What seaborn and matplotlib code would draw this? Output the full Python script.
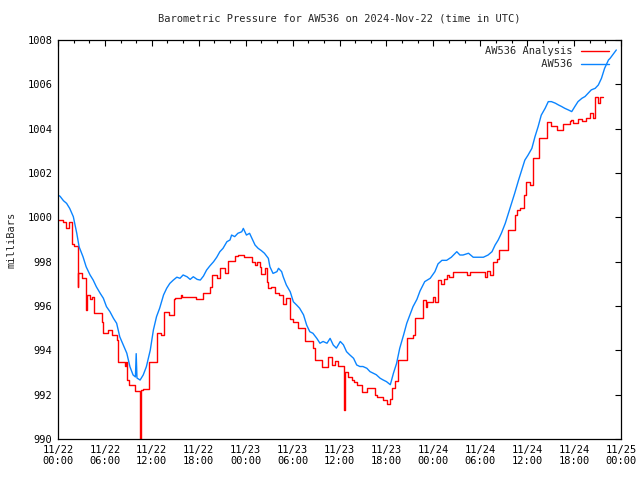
import pandas as pd
import matplotlib
matplotlib.use('Agg')
from matplotlib import pyplot as plt
import matplotlib.dates as mdates
import seaborn as sb

sb.set_style('white')
plt.rcParams['font.family'] = ['DejaVu Sans Mono']

# observed station pressure: hours after 2024-11-22 00:00 UTC, mb
obs_hours = [0.0, 0.26, 0.7, 1.1, 1.5, 1.96, 2.4, 2.7, 3.2, 3.6, 4.1, 4.5, 4.9, 5.4,
             5.8, 6.2, 6.65, 7.1, 7.5, 7.9, 8.35, 8.8, 9.2, 9.6, 9.9, 10.0, 10.1,
             10.5, 10.9, 11.3, 11.8, 12.2, 12.6, 13.0, 13.5, 13.9, 14.3, 14.75,
             15.2, 15.6, 16.0, 16.5, 16.9, 17.3, 17.8, 18.2, 18.6, 19.0, 19.4,
             19.9, 20.3, 20.7, 21.1, 21.6, 22.0, 22.2, 22.6, 23.0, 23.5, 23.7,
             24.1, 24.5, 24.8, 25.2, 25.6, 26.0, 26.4, 26.9, 27.1, 27.5, 28.0,
             28.2, 28.6, 28.8, 29.2, 29.7, 30.1, 30.5, 30.9, 31.4, 31.8, 32.2,
             32.6, 33.1, 33.5, 33.9, 34.4, 34.8, 35.2, 35.6, 36.1, 36.5, 36.9,
             37.3, 37.8, 38.2, 38.6, 39.0, 39.5, 39.9, 40.3, 40.7, 41.2, 41.6,
             42.0, 42.5, 42.9, 43.3, 43.7, 44.2, 44.6, 45.0, 45.4, 45.9, 46.3,
             46.9, 47.6, 48.2, 48.6, 49.1, 49.7, 50.3, 51.0, 51.4, 51.8, 52.5,
             53.1, 53.7, 54.4, 55.0, 55.5, 55.9, 56.3, 56.7, 57.2, 57.6, 58.0,
             58.4, 58.9, 59.3, 59.7, 60.1, 60.6, 61.0, 61.4, 61.8, 62.3, 62.7,
             63.1, 63.6, 64.0, 64.4, 64.8, 65.3, 65.7, 66.1, 66.5, 67.0, 67.4,
             67.8, 68.2, 68.7, 69.1, 69.5, 69.9, 70.4, 70.6, 71.4]
obs_mb = [1001.0, 1000.95, 1000.75, 1000.63, 1000.4, 1000.03, 999.28, 998.67, 998.22,
          997.77, 997.4, 997.17, 996.87, 996.57, 996.35, 995.97, 995.74, 995.44,
          995.22, 994.61, 994.24, 993.87, 993.26, 992.89, 992.8, 993.85, 992.75,
          992.66, 992.89, 993.26, 994.01, 994.92, 995.52, 995.9, 996.5, 996.8,
          997.02, 997.17, 997.3, 997.25, 997.4, 997.32, 997.2, 997.32, 997.2,
          997.17, 997.35, 997.62, 997.8, 998.0, 998.2, 998.45, 998.6, 998.9,
          998.98, 999.2, 999.13, 999.28, 999.35, 999.5, 999.2, 999.28, 999.05,
          998.75, 998.6, 998.5, 998.38, 998.15, 997.77, 997.47, 997.55, 997.7,
          997.55, 997.32, 996.95, 996.64, 996.19, 996.05, 995.9, 995.6, 995.14,
          994.84, 994.77, 994.54, 994.32, 994.4, 994.32, 994.54, 994.24, 994.1,
          994.4, 994.25, 993.94, 993.8, 993.64, 993.34, 993.27, 993.27, 993.19,
          993.04, 992.97, 992.9, 992.74, 992.66, 992.59, 992.45, 992.97, 993.41,
          994.09, 994.7, 995.22, 995.6, 995.97, 996.3, 996.68, 997.1, 997.25,
          997.55, 997.9, 998.06, 998.06, 998.2, 998.45, 998.3, 998.3, 998.38,
          998.2, 998.2, 998.2, 998.3, 998.45, 998.75, 998.98, 999.28, 999.73,
          1000.18, 1000.63, 1001.08, 1001.68, 1002.13, 1002.58, 1002.8, 1003.11,
          1003.64, 1004.09, 1004.61, 1004.92, 1005.22, 1005.22, 1005.15, 1005.07,
          1005.0, 1004.92, 1004.84, 1004.77, 1005.0, 1005.22, 1005.37, 1005.45,
          1005.6, 1005.75, 1005.82, 1005.97, 1006.27, 1006.72, 1007.1, 1007.17,
          1007.55]

# analysis pressure: step start hours and values, mb
ana_hours = [0.0, 0.6, 1.0, 1.45, 1.75, 2.1, 2.52, 2.6, 3.03, 3.58, 3.7, 4.09, 4.4,
             4.65, 5.58, 5.8, 6.44, 6.86, 7.59, 7.72, 8.57, 8.7, 8.78, 9.1, 9.85,
             10.45, 10.5, 10.6, 10.83, 11.64, 12.7, 13.2, 13.56, 14.24, 14.83,
             15.0, 15.7, 15.81, 17.7, 18.6, 19.44, 19.65, 20.3, 20.7, 21.35,
             21.78, 22.6, 23.0, 23.8, 24.8, 25.2, 25.4, 25.8, 26.0, 26.5, 26.7,
             26.9, 27.3, 27.7, 28.2, 28.8, 29.2, 29.7, 30.1, 30.7, 31.59, 32.65,
             32.86, 33.72, 34.57, 35.0, 35.42, 35.85, 36.57, 36.7, 37.13, 37.55,
             37.85, 38.19, 38.83, 39.56, 40.54, 40.75, 41.6, 42.03, 42.45, 42.67,
             43.1, 43.52, 44.59, 45.44, 45.65, 46.72, 47.0, 47.23, 48.0, 48.2,
             48.6, 49.0, 49.4, 49.7, 50.0, 50.55, 52.3, 52.7, 54.6, 54.8, 55.24,
             55.58, 56.2, 56.44, 57.6, 58.45, 58.7, 59.1, 59.6, 59.85, 60.36,
             60.7, 61.55, 62.5, 63.1, 63.77, 64.62, 65.47, 65.6, 65.8, 66.54,
             67.0, 67.48, 68.03, 68.46, 68.67, 69.1, 69.3, 69.65]
ana_mb = [999.9, 999.8, 999.5, 999.8, 998.8, 998.7, 996.87, 997.47, 997.25, 995.8,
          996.5, 996.3, 996.4, 995.67, 995.29, 994.77, 994.92, 994.7, 994.47,
          993.49, 993.3, 993.49, 992.66, 992.43, 992.15, 991.14, 990.0, 992.2,
          992.27, 993.49, 994.8, 994.7, 995.74, 995.6, 996.3, 996.37, 996.5,
          996.4, 996.3, 996.6, 996.87, 997.4, 997.25, 997.7, 997.47, 998.03,
          998.27, 998.3, 998.2, 997.97, 997.85, 998.0, 997.74, 997.43, 997.7,
          997.1, 996.8, 996.87, 996.57, 996.5, 996.08, 996.35, 995.4, 995.3,
          995.0, 994.4, 994.1, 993.56, 993.27, 993.71, 993.34, 993.5, 993.3,
          991.3, 993.04, 992.78, 992.66, 992.55, 992.44, 992.13, 992.3, 992.0,
          991.88, 991.78, 991.6, 991.8, 992.3, 992.6, 993.56, 994.54, 994.7,
          995.44, 996.27, 995.97, 996.2, 996.4, 996.17, 997.17, 997.0, 997.2,
          997.4, 997.3, 997.55, 997.4, 997.55, 997.33, 997.6, 997.4, 998.0,
          998.1, 998.52, 999.43, 1000.1, 1000.33, 1000.4, 1001.0, 1001.6,
          1001.45, 1002.66, 1003.56, 1004.31, 1004.1, 1003.93, 1004.2, 1004.33,
          1004.4, 1004.24, 1004.43, 1004.35, 1004.48, 1004.7, 1004.48, 1005.44,
          1005.18, 1005.44, 1005.44]

t0 = pd.Timestamp('2024-11-22 00:00')
dfO = pd.DataFrame({'time': t0 + pd.to_timedelta(obs_hours, unit='h'), 'mb': obs_mb})
dfA = pd.DataFrame({'time': t0 + pd.to_timedelta(ana_hours, unit='h'), 'mb': ana_mb})

# plotting
fig = plt.figure(figsize=(6.4, 4.8), dpi=100)
ax = fig.add_axes([58 / 640, 41 / 480, 563 / 640, 399 / 480])

sb.lineplot(data=dfA, x='time', y='mb', ax=ax, color='#ff0000', linewidth=1.0,
            drawstyle='steps-post', label='AW536 Analysis')
sb.lineplot(data=dfO, x='time', y='mb', ax=ax, color='#0a84ff', linewidth=1.0,
            label='AW536')

ax.set_xlim(t0, t0 + pd.Timedelta(hours=72))
ax.set_ylim(990, 1008)
ax.set_yticks(range(990, 1009, 2))
ax.xaxis.set_major_locator(mdates.HourLocator(byhour=[0, 6, 12, 18]))
ax.xaxis.set_minor_locator(mdates.HourLocator(byhour=range(0, 24, 2)))
ax.xaxis.set_major_formatter(mdates.DateFormatter('%m/%d\n%H:%M'))

ax.tick_params(which='both', direction='in', top=True, right=True,
               labelsize=7.5, width=0.8, colors='black')
ax.tick_params(which='major', length=4, pad=4)
ax.tick_params(which='minor', length=2.5)
for s in ax.spines.values():
    s.set_color('black')
    s.set_linewidth(0.9)

ax.set_xlabel('')
ax.set_ylabel('milliBars', fontsize=7.5, labelpad=8)
ax.set_title('Barometric Pressure for AW536 on 2024-Nov-22 (time in UTC)',
             fontsize=7.5, pad=13)

h, l = ax.get_legend_handles_labels()
ax.legend(h, ['AW536 Analysis', '         AW536'], loc='upper right',
          bbox_to_anchor=(1 - 6 / 563, 1),
          frameon=False, markerfirst=False, fontsize=7.5, handlelength=2.7,
          handletextpad=0.8, labelspacing=0.3, borderaxespad=0.2)

plt.savefig('out.png', dpi=100)
